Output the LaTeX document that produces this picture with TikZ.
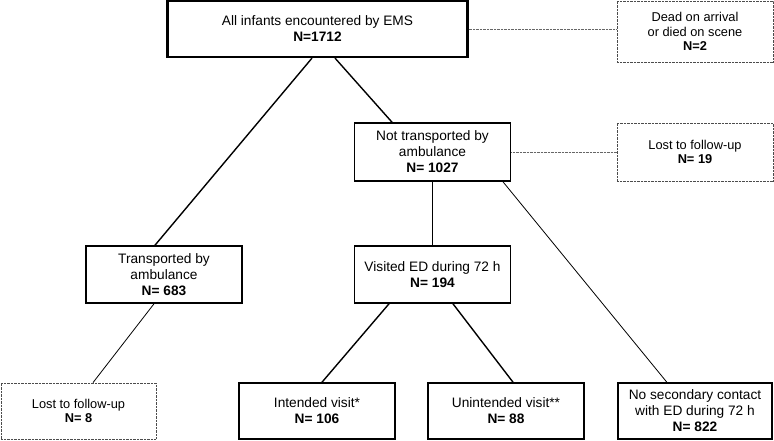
\documentclass[tikz,border=0pt]{standalone}
\usepackage{fontspec}
\setmainfont{Liberation Sans}
\begin{document}
\begin{tikzpicture}[x=1pt,y=-1pt,
  mainbox/.style={draw=black,line width=1.6pt,inner sep=0pt,align=center,
    minimum width=156pt,minimum height=57pt,font=\fontsize{13.7}{16}\selectfont},
  dotbox/.style={draw=black!70,line width=0.8pt,dash pattern=on 0.7pt off 0.7pt,inner sep=0pt,align=center,
    minimum width=156pt,minimum height=58pt,font=\fontsize{12.8}{14.5}\selectfont},
  thickline/.style={line width=1.4pt},
  thinline/.style={line width=0.8pt},
  dotline/.style={draw=black!60,line width=0.8pt,dash pattern=on 0.7pt off 0.7pt}]
\useasboundingbox (0,0) rectangle (774,440);
\node[mainbox,line width=2.2pt,minimum width=300pt,minimum height=56pt] (top) at (317.5,29)
  {All infants encountered by EMS\\\textbf{N=1712}};
\node[dotbox,minimum height=61pt] (dead) at (695,31.5)
  {Dead on arrival\\or died on scene\\\textbf{N=2}};
\node[mainbox,minimum height=58pt] (nottr) at (432.5,152)
  {Not transported by\\ambulance\\\textbf{N= 1027}};
\node[dotbox] (lost19) at (695,152) {Lost to follow-up\\\textbf{N= 19}};
\node[mainbox] (transp) at (164,274.5) {Transported by\\ambulance\\\textbf{N= 683}};
\node[mainbox] (visited) at (432.5,274.5) {Visited ED during 72 h\\\textbf{N= 194}};
\node[dotbox,minimum width=155pt,minimum height=56pt] (lost8) at (78.5,411) {Lost to follow-up\\\textbf{N= 8}};
\node[mainbox,minimum height=56pt] (intended) at (317,411) {Intended visit*\\\textbf{N= 106}};
\node[mainbox,minimum height=56pt] (unintended) at (506,411) {Unintended visit**\\\textbf{N= 88}};
\node[mainbox,line width=1.2pt,minimum width=154pt,minimum height=56pt] (nosec) at (695,411)
  {No secondary contact\\with ED during 72 h\\\textbf{N= 822}};
% connectors
\draw[thickline] ([xshift=-5.5pt]top.south) -- ([xshift=-9pt]transp.north);
\draw[thickline] ([xshift=17.5pt]top.south) -- ([xshift=-40.5pt]nottr.north);
\draw[dotline] (top.east) -- (top.east -| dead.west);
\draw[dotline] (nottr.east) -- (nottr.east -| lost19.west);
\draw[thickline] (nottr.south) -- (visited.north);
\draw[thinline] ([xshift=70.5pt]nottr.south) -- ([xshift=-28pt]nosec.north);
\draw[thinline] ([xshift=-10pt]transp.south) -- ([xshift=14.5pt]lost8.north);
\draw[thickline] ([xshift=-43.5pt]visited.south) -- ([xshift=5pt]intended.north);
\draw[thickline] ([xshift=20.5pt]visited.south) -- ([xshift=7pt]unintended.north);
\end{tikzpicture}
\end{document}
